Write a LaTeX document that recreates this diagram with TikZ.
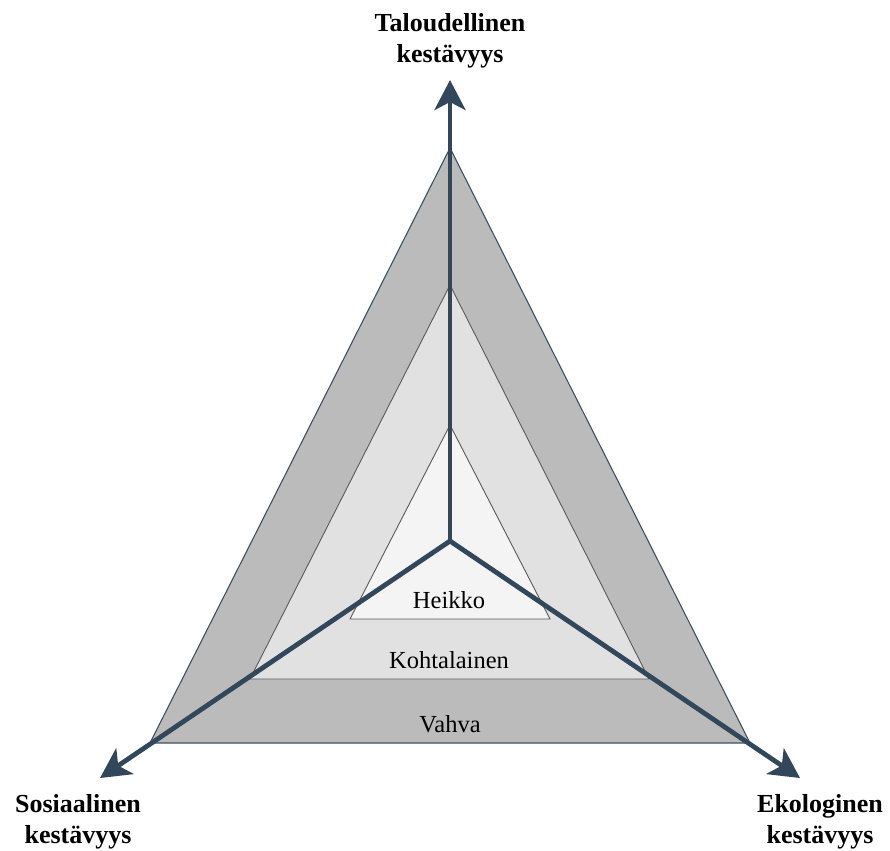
\documentclass[tikz,border=0pt]{standalone}
\usepackage{fontspec}
\setmainfont{Liberation Serif}
\usetikzlibrary{arrows.meta}
\definecolor{axisblue}{HTML}{33475B}
\definecolor{outerfill}{HTML}{BBBBBB}
\definecolor{midfill}{HTML}{E1E1E1}
\definecolor{innerfill}{HTML}{F4F4F4}
\definecolor{outeredge}{HTML}{3E5063}
\definecolor{inneredge}{HTML}{5A5A5A}
\tikzset{
  axisline/.style={draw=axisblue, line width=4.8pt, line join=miter,
    -{Stealth[length=30pt, width=31pt, inset=8pt]}},
  axislabel/.style={font=\fontsize{26}{31}\selectfont\bfseries, align=center, inner sep=0pt, text=black},
  levellabel/.style={font=\fontsize{24.5}{28}\selectfont, inner sep=0pt, anchor=base, text=black},
  outertri/.style={fill=outerfill, draw=outeredge, line width=1.1pt},
  midtri/.style={fill=midfill, draw=inneredge, line width=0.9pt},
  innertri/.style={fill=innerfill, draw=inneredge, line width=0.9pt},
}
\begin{document}
\begin{tikzpicture}[x=1pt,y=-1pt]
\useasboundingbox (0,0) rectangle (890,850);
% coordinates
\coordinate (C) at (450,541);
\coordinate (O1) at (450,148);
\coordinate (O2) at (150,743);
\coordinate (O3) at (750,743);
\coordinate (M1) at (450,285);
\coordinate (M2) at (250,679);
\coordinate (M3) at (649,679);
\coordinate (I1) at (450,425);
\coordinate (I2) at (350,619);
\coordinate (I3) at (550,619);
\coordinate (TT) at (450,80);
\coordinate (TL) at (100,778);
\coordinate (TR) at (800,778);
% triangles
\draw[outertri] (O1) -- (O2) -- (O3) -- cycle;
\draw[midtri] (M1) -- (M2) -- (M3) -- cycle;
\draw[innertri] (I1) -- (I2) -- (I3) -- cycle;
% level labels
\node[levellabel] (heikko) at (449,608) {Heikko};
\node[levellabel] (kohtalainen) at (449,668) {Kohtalainen};
\node[levellabel] (vahva) at (450,732) {Vahva};
% axes
\draw[axisline] (C) -- (TT);
\draw[axisline] (C) -- (TL);
\draw[axisline] (C) -- (TR);
% axis labels
\node[axislabel] (talous) at (450,41) {Taloudellinen\\kestävyys};
\node[axislabel] (sosiaali) at (78,822) {Sosiaalinen\\kestävyys};
\node[axislabel] (ekologia) at (820,822) {Ekologinen\\kestävyys};
\end{tikzpicture}
\end{document}
